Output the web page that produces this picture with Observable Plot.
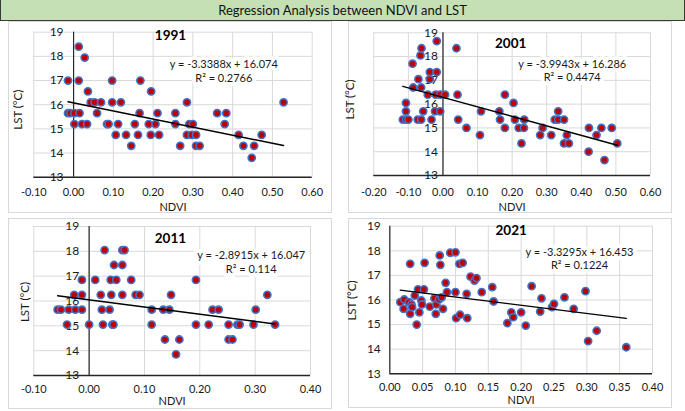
<!DOCTYPE html>
<html>
<head>
<meta charset="utf-8">
<script src="https://cdn.jsdelivr.net/npm/d3@7"></script>
<script src="https://cdn.jsdelivr.net/npm/@observablehq/plot@0.6"></script>
<style>
  body { margin: 0; background: #ffffff; }
  #wrap { position: relative; width: 685px; height: 411px; overflow: hidden; font-family: Lato, "Open Sans", sans-serif; background: #fff; }
  #title { position: absolute; left: 0; top: 0; width: 683px; height: 20px; background: #c5e0b4; border: 1px solid #3a3a3a; border-top: none; text-align: center; font-size: 13px; line-height: 21px; color: #111; }
  .box { position: absolute; border: 1px solid #d9d9d9; box-sizing: border-box; background: #fff; }
  .chart { position: absolute; }
</style>
</head>
<body>
<div id="wrap">
  <div id="title">Regression Analysis between NDVI and LST</div>
</div>
<script>
// ---- Data ----
const years = ["1991", "2001", "2011", "2021"];
const slopes = [-3.3388, -3.9943, -2.8915, -3.3295];
const intercepts = [16.074, 16.286, 16.047, 16.453];
const r2 = ["0.2766", "0.4474", "0.114", "0.1224"];

const xTicks1991 = [-0.1, 0, 0.1, 0.2, 0.3, 0.4, 0.5, 0.6];
const xTicks2001 = [-0.2, -0.1, 0, 0.1, 0.2, 0.3, 0.4, 0.5, 0.6];
const xTicks2011 = [-0.1, 0, 0.1, 0.2, 0.3, 0.4];
const xTicks2021 = [0, 0.05, 0.1, 0.15, 0.2, 0.25, 0.3, 0.35, 0.4];
const yTicks = [13, 14, 15, 16, 17, 18, 19];

const ndvi1991 = [-0.014,-0.014,-0.008,0.002,0.002,0.013,0.013,0.015,0.021,0.028,0.034,0.036,0.043,0.053,0.059,0.069,0.084,0.088,0.097,0.097,0.106,0.112,0.119,0.132,0.145,0.154,0.162,0.166,0.168,0.189,0.194,0.195,0.206,0.211,0.215,0.256,0.256,0.268,0.285,0.285,0.291,0.297,0.300,0.308,0.308,0.317,0.361,0.380,0.384,0.415,0.427,0.448,0.454,0.473,0.528];
const lst1991 = [17.0,15.65,15.65,15.2,15.65,18.4,17.0,15.65,15.2,17.95,15.2,16.55,16.1,16.1,15.65,16.1,15.2,15.2,17.0,16.1,14.75,15.2,16.1,14.75,14.3,15.2,14.75,15.65,17.0,15.2,14.75,16.55,15.2,15.65,14.75,15.65,15.2,14.3,16.1,14.75,15.2,14.75,15.2,14.75,14.3,14.3,15.65,15.2,15.65,14.75,14.3,13.8,14.3,14.75,16.1];

const ndvi2001 = [-0.116,-0.107,-0.107,-0.107,-0.100,-0.088,-0.086,-0.073,-0.071,-0.065,-0.062,-0.063,-0.063,-0.057,-0.044,-0.038,-0.038,-0.033,-0.023,-0.021,-0.018,-0.018,-0.008,-0.008,0.006,0.039,0.042,0.044,0.068,0.107,0.110,0.163,0.165,0.179,0.179,0.204,0.208,0.219,0.227,0.234,0.235,0.281,0.288,0.313,0.323,0.333,0.333,0.350,0.350,0.358,0.364,0.422,0.421,0.444,0.458,0.467,0.488,0.504];
const lst2001 = [15.35,16.05,15.7,15.35,15.35,17.7,16.7,15.35,17.05,18.05,18.35,16.7,15.35,15.7,16.4,17.35,17.05,15.35,15.7,16.4,18.65,17.35,15.7,16.4,16.4,18.35,16.4,15.35,15.0,14.7,15.7,15.7,15.35,16.4,15.0,16.05,15.35,15.0,14.35,15.0,15.35,14.7,15.0,14.7,15.35,15.7,15.35,15.35,14.35,14.7,14.35,15.0,14.0,14.7,15.0,13.65,15.0,14.35];

const ndvi2011 = [-0.057,-0.051,-0.040,-0.037,-0.027,-0.025,-0.013,-0.013,-0.013,0.000,0.011,0.021,0.023,0.025,0.028,0.037,0.039,0.040,0.042,0.044,0.045,0.049,0.060,0.060,0.060,0.064,0.076,0.084,0.091,0.113,0.113,0.134,0.137,0.145,0.148,0.157,0.163,0.193,0.193,0.216,0.223,0.234,0.252,0.252,0.259,0.268,0.272,0.297,0.301,0.322,0.336];
const lst2011 = [15.65,15.65,15.05,15.65,16.25,15.65,16.85,16.25,15.65,15.05,16.85,16.25,15.65,15.05,18.05,15.65,16.85,16.25,15.05,15.05,17.45,16.85,18.05,17.45,16.25,18.05,16.85,16.25,16.25,15.65,15.05,15.65,14.45,15.65,16.25,13.85,14.45,16.85,15.05,15.05,15.65,15.65,15.05,14.45,14.45,15.05,15.05,15.05,15.65,16.25,15.05];

const ndvi2021 = [0.016,0.021,0.022,0.029,0.031,0.031,0.033,0.034,0.038,0.041,0.043,0.045,0.048,0.049,0.052,0.053,0.061,0.068,0.070,0.071,0.075,0.076,0.077,0.079,0.081,0.085,0.087,0.092,0.100,0.100,0.101,0.106,0.107,0.111,0.117,0.118,0.123,0.129,0.132,0.140,0.156,0.158,0.179,0.185,0.188,0.200,0.207,0.216,0.229,0.231,0.247,0.250,0.266,0.280,0.298,0.302,0.315,0.360];
const lst2021 = [15.91,15.64,16.02,15.91,15.44,17.47,15.82,15.71,16.18,15.0,16.43,15.50,15.98,15.82,16.43,17.51,15.73,16.07,15.44,15.82,16.02,17.81,17.43,16.11,15.64,16.70,16.32,17.92,17.94,16.32,15.26,17.47,15.40,17.51,16.25,15.26,16.95,16.79,16.89,16.32,16.52,15.94,15.06,15.50,15.30,15.50,14.96,16.56,15.53,16.07,15.71,15.84,16.11,15.64,16.36,14.33,14.75,14.08];

// ---- Layout (styles, not data) ----
const layouts = [
  {xs: ndvi1991, ys: lst1991, ticks: xTicks1991, left: 8, top: 21, width: 324, height: 192,
   m: [10.7, 20.3, 36.3, 25.3], title: [-2.5, 3.3], eq: [190, 33.3], ylab: [-15, 5], ytdx: -10, xtp: 15, xlab: 30},
  {xs: ndvi2001, ys: lst2001, ticks: xTicks2001, left: 348, top: 21, width: 324, height: 192,
   m: [11.3, 22, 38, 25.3], title: [-1.5, 11], eq: [198.4, 32], ylab: [-23.3, -4.7], ytdx: -5, xtp: 16.5, xlab: 32},
  {xs: ndvi2011, ys: lst2011, ticks: xTicks2011, left: 8, top: 218, width: 324, height: 191,
   m: [8, 22, 34, 25.3], title: [-1.7, 12.3], eq: [217.4, 29.7], ylab: [-8.3, 1], ytdx: -10, xtp: 14, xlab: 26},
  {xs: ndvi2021, ys: lst2021, ticks: xTicks2021, left: 348, top: 218, width: 324, height: 190,
   m: [7.7, 20, 34.7, 41.3], title: [-10, 4.3], eq: [189.7, 26.6], ylab: [-37.6, 0.5], ytdx: -9, xtp: 13.5, xlab: 27}
];

const wrap = document.getElementById("wrap");
const ink = "#1a1a1a";

layouts.forEach((L, i) => {
  const box = document.createElement("div");
  box.className = "box";
  Object.assign(box.style, {left: L.left + "px", top: L.top + "px", width: L.width + "px", height: L.height + "px"});
  wrap.appendChild(box);

  const pts = L.xs.map((x, k) => ({ndvi: x, lst: L.ys[k]}));
  const x0 = d3.min(L.xs), x1 = d3.max(L.xs);
  const fit = [x0, x1].map(x => ({ndvi: x, lst: slopes[i] * x + intercepts[i]}));
  const sign = intercepts[i] >= 0 ? "+" : "-";
  const eqText = `y = ${slopes[i]}x ${sign} ${Math.abs(intercepts[i])}\nR² = ${r2[i]}`;
  const xDomain = [L.ticks[0], L.ticks[L.ticks.length - 1]];

  const chart = Plot.plot({
    width: L.width,
    height: L.height,
    marginTop: L.m[0], marginRight: L.m[1], marginBottom: L.m[2], marginLeft: L.m[3],
    style: {fontFamily: "Lato, 'Open Sans', sans-serif", fontSize: "11px", color: ink, background: "transparent", overflow: "visible"},
    x: {domain: xDomain, ticks: L.ticks},
    y: {domain: [13, 19], axis: null},
    marks: [
      Plot.gridX(L.ticks, {stroke: "#d9d9d9", strokeOpacity: 1, strokeWidth: 1}),
      Plot.gridY(yTicks, {stroke: "#d9d9d9", strokeOpacity: 1, strokeWidth: 1}),
      Plot.ruleX([0], {stroke: "#262626", strokeWidth: 1.2}),
      Plot.ruleY([13], {stroke: "#262626", strokeWidth: 1.4}),
      Plot.axisX(L.ticks, {tickSize: 0, tickPadding: L.xtp - 4, tickFormat: d => d.toFixed(2), fontSize: 11, fill: ink, label: null}),
      Plot.text(yTicks, {x: () => 0, y: d => d, text: d => String(d), textAnchor: "end", lineAnchor: "middle", dx: L.ytdx, fontSize: 12, fill: ink}),
      Plot.text([eqText], {frameAnchor: "top-left", dx: L.eq[0], dy: L.eq[1] - 7, textAnchor: "middle", lineAnchor: "top", lineHeight: 1.25, fontSize: 11, fill: ink, stroke: "white", strokeWidth: 8, paintOrder: "stroke"}),
      Plot.dot(pts, {x: "ndvi", y: "lst", r: 3.6, fill: "#c00000", stroke: "#4472c4", strokeWidth: 1.6}),
      Plot.line(fit, {x: "ndvi", y: "lst", stroke: "#000", strokeWidth: 1.4}),
      Plot.text([years[i]], {frameAnchor: "top", dx: L.title[0], dy: L.title[1], lineAnchor: "middle", fontWeight: "bold", fontSize: 13.5, fill: "#000"}),
      Plot.text(["LST (°C)"], {frameAnchor: "left", rotate: -90, dx: L.ylab[0], dy: L.ylab[1], textAnchor: "middle", lineAnchor: "middle", fontSize: 11.5, fill: ink}),
      Plot.text(["NDVI"], {frameAnchor: "bottom", dy: L.xlab, lineAnchor: "middle", fontSize: 11, fill: ink})
    ]
  });
  chart.classList.add("chart");
  chart.style.left = L.left + "px";
  chart.style.top = L.top + "px";
  wrap.appendChild(chart);
});
</script>
</body>
</html>
